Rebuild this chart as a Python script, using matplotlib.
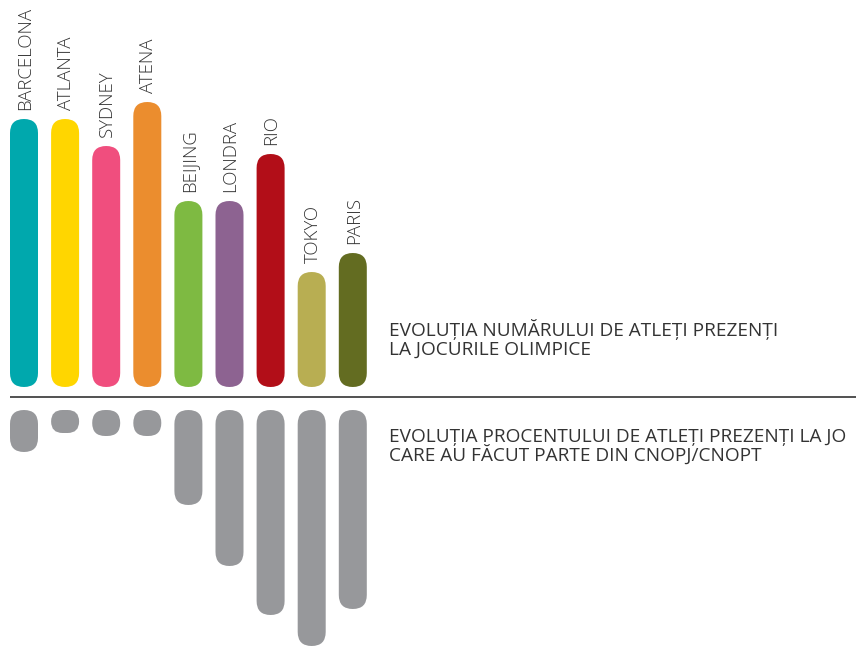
import numpy as np
import matplotlib
matplotlib.use("Agg")
import matplotlib.pyplot as plt
from matplotlib.patches import FancyBboxPatch

# ---------------------------------------------
# DATE (unitati aproximative)
# ---------------------------------------------
orase = ["BARCELONA", "ATLANTA", "SYDNEY", "ATENA", "BEIJING",
         "LONDRA", "RIO", "TOKYO", "PARIS"]
# numarul de atleti prezenti (inaltimea barelor colorate)
nr_atleti = [268, 268, 241, 285, 186, 186, 233, 115, 134]
# procentul atletilor din CNOPJ/CNOPT (inaltimea barelor gri)
procent_cnop = [42, 23, 26, 26, 95, 156, 205, 236, 199]

culori = ["#00A8AD", "#FFD600", "#F04E7E", "#EB8D2E", "#7EBA42",
          "#8D6391", "#B20E18", "#B8AE52", "#636C21"]
gri = "#97989B"
text_col = "#333333"

titlu_sus = ["EVOLUȚIA NUMĂRULUI DE ATLEȚI PREZENȚI",
             "LA JOCURILE OLIMPICE"]
# in original textul e taiat la marginea imaginii
titlu_jos = ["EVOLUȚIA PROCENTULUI DE ATLEȚI PREZENȚI LA JO",
             "CARE AU FĂCUT PARTE DIN CNOPJ/CNOPT"]

plt.rcParams['font.family'] = ['Open Sans', 'DejaVu Sans']

# ---------------------------------------------
# FIGURA (1 unitate = 1 pixel)
# ---------------------------------------------
W, H = 856, 646
fig = plt.figure(figsize=(W / 100, H / 100), dpi=100)
ax = fig.add_axes([0, 0, 1, 1])
ax.set_xlim(0, W)
ax.set_ylim(-249, 397)
ax.set_aspect('equal')
ax.axis('off')

x = 24 + 41.1 * np.arange(len(orase))
latime = 28


def rotunjeste(bars, color):
    # inlocuim dreptunghiurile cu forme rotunjite
    for b, c in zip(bars, color):
        x0, y0 = b.get_x(), b.get_y()
        w, h = b.get_width(), b.get_height()
        if h < 0:
            y0, h = y0 + h, -h
        r = min(w, h) / 2
        p = FancyBboxPatch((x0, y0), w, h,
                           boxstyle=f"round,pad=0,rounding_size={r}",
                           fc=c, ec='none')
        b.remove()
        ax.add_patch(p)


sus = ax.bar(x, nr_atleti, width=latime, bottom=10)
rotunjeste(sus, culori)

jos = ax.bar(x, [-v for v in procent_cnop], width=latime, bottom=-13)
rotunjeste(jos, [gri] * len(orase))

# etichete orase
for xi, v, nume in zip(x, nr_atleti, orase):
    ax.text(xi + 1, 10 + v + 9, nume, rotation=90, ha='center', va='bottom',
            fontsize=13.4, color=text_col, fontweight='light')

# linia de separare
ax.plot([10, W], [0, 0], color="#222222", lw=1.1, solid_capstyle='butt')

# texte explicative
for i, t in enumerate(titlu_sus):
    ax.text(389, 61 - 18.5 * i, t, ha='left', va='baseline',
            fontsize=13.7, color=text_col)
for i, t in enumerate(titlu_jos):
    ax.text(389, -45 - 18.5 * i, t, ha='left', va='baseline',
            fontsize=13.7, color=text_col)

fig.savefig("out.png", dpi=100)
